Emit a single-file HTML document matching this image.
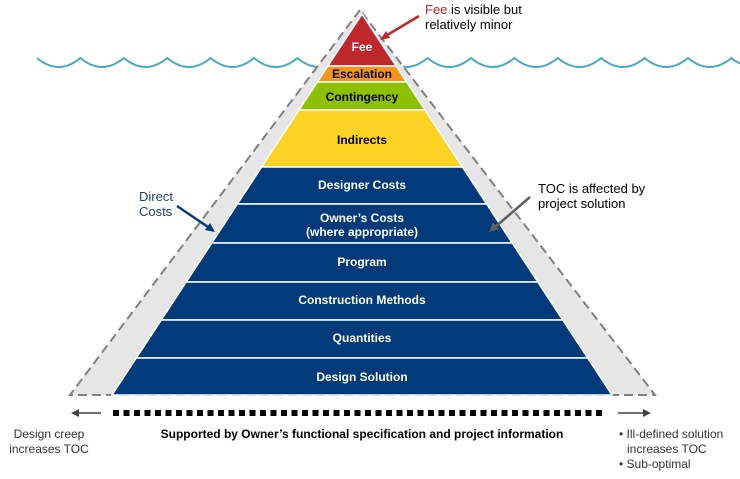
<!DOCTYPE html>
<html><head><meta charset="utf-8"><style>
body{margin:0;background:#fff;width:740px;height:474px;overflow:hidden}
text{font-family:"Liberation Sans",Arial,sans-serif}
</style></head><body>
<svg width="740" height="474" viewBox="0 0 740 474" xmlns="http://www.w3.org/2000/svg">
<path d="M37,58 Q58.7,76 80.4,58 Q102.1,76 123.8,58 Q145.5,76 167.2,58 Q188.9,76 210.6,58 Q232.3,76 254,58 Q275.7,76 297.4,58 Q319.1,76 340.8,58 Q362.5,76 384.2,58 Q405.9,76 427.6,58 Q449.3,76 471,58 Q492.7,76 514.4,58 Q536.1,76 557.8,58 Q579.5,76 601.2,58 Q622.9,76 644.6,58 Q666.3,76 688,58 Q709.7,76 731.4,58 Q745,70 760,58" fill="none" stroke="#4aa8c4" stroke-width="2"/>
<polygon points="360,10 70,395 655,395" fill="#e6e6e6" stroke="#808080" stroke-width="2" stroke-dasharray="9,5"/>
<g stroke="#fff" stroke-width="1.5">
<polygon points="362,14 327.9,66 396.1,66" fill="#c0272d"/>
<polygon points="327.9,66 396.1,66 406.6,82 317.4,82" fill="#f7941d"/>
<polygon points="317.4,82 406.6,82 425,110 299,110" fill="#8dc000"/>
<polygon points="299,110 425,110 462.4,167 261.6,167" fill="#fcd224"/>
<polygon points="261.6,167 462.4,167 486.6,204 237.4,204" fill="#003a7a"/>
<polygon points="237.4,204 486.6,204 512.2,243 211.8,243" fill="#003a7a"/>
<polygon points="211.8,243 512.2,243 537.8,282 186.2,282" fill="#003a7a"/>
<polygon points="186.2,282 537.8,282 562.7,320 161.3,320" fill="#003a7a"/>
<polygon points="161.3,320 562.7,320 587.7,358 136.3,358" fill="#003a7a"/>
<polygon points="136.3,358 587.7,358 612,395 112,395" fill="#003a7a"/>
</g>
<g font-weight="bold" font-size="12" text-anchor="middle">
<text x="362" y="51" fill="#fff">Fee</text>
<text x="362" y="78" fill="#000">Escalation</text>
<text x="362" y="101" fill="#000">Contingency</text>
<text x="362" y="144" fill="#000">Indirects</text>
<g fill="#fff">
<text x="362" y="189">Designer Costs</text>
<text x="362" y="222">Owner’s Costs</text>
<text x="362" y="236">(where appropriate)</text>
<text x="362" y="266">Program</text>
<text x="362" y="304">Construction Methods</text>
<text x="362" y="342">Quantities</text>
<text x="362" y="381">Design Solution</text>
</g>
</g>
<defs>
<marker id="ar" markerWidth="8" markerHeight="8" refX="6" refY="4" orient="auto" markerUnits="userSpaceOnUse"><path d="M0,0 L8,4 L0,8 z" fill="context-stroke"/></marker>
</defs>
<line x1="419" y1="16" x2="384" y2="37" stroke="#c0272d" stroke-width="2.5"/>
<polygon points="380,40 386,31 390,38" fill="#c0272d"/>
<line x1="177" y1="206" x2="211" y2="229" stroke="#003a7a" stroke-width="2.5"/>
<polygon points="215,232 205,230 210,223" fill="#003a7a"/>
<line x1="530" y1="197" x2="494" y2="228" stroke="#606060" stroke-width="2.5"/>
<polygon points="489,232 493,222 499,229" fill="#606060"/>
<text x="425" y="14" font-size="13"><tspan fill="#c0272d">Fee</tspan><tspan fill="#000"> is visible but</tspan></text>
<text x="425" y="29" font-size="13" fill="#000">relatively minor</text>
<text x="139" y="201" font-size="13" fill="#1f3f7a">Direct</text>
<text x="139" y="216" font-size="13" fill="#1f3f7a">Costs</text>
<text x="538" y="193" font-size="13" fill="#000">TOC is affected by</text>
<text x="538" y="208" font-size="13" fill="#000">project solution</text>
<line x1="113" y1="413" x2="606" y2="413" stroke="#000" stroke-width="6" stroke-dasharray="6,4.5"/>
<line x1="74" y1="413" x2="101" y2="413" stroke="#404040" stroke-width="1.5"/>
<polygon points="71,413 79,409 79,417" fill="#404040"/>
<line x1="618" y1="413" x2="647" y2="413" stroke="#404040" stroke-width="1.5"/>
<polygon points="651,413 643,409 643,417" fill="#404040"/>
<text x="362" y="438" font-size="12" font-weight="bold" text-anchor="middle" fill="#000">Supported by Owner’s functional specification and project information</text>
<g font-size="12" fill="#333">
<text x="49" y="438" text-anchor="middle">Design creep</text>
<text x="49" y="453" text-anchor="middle">increases TOC</text>
<text x="619" y="438">• Ill-defined solution</text>
<text x="627" y="453">increases TOC</text>
<text x="619" y="468">• Sub-optimal</text>
</g>
</svg>
</body></html>
